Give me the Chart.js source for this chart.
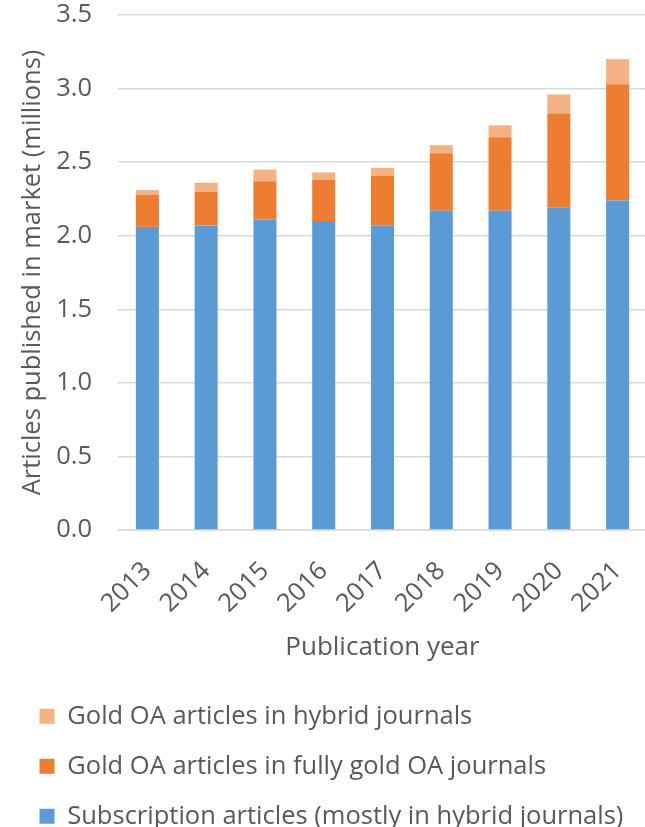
<!DOCTYPE html>
<html>
<head>
<meta charset="utf-8">
<script src="https://cdn.jsdelivr.net/npm/chart.js@4"></script>
<style>
  html, body { margin: 0; padding: 0; background: #fff; overflow: hidden; }
  #wrap { width: 650px; height: 839px; }
</style>
</head>
<body>
<div id="wrap"><canvas id="chart"></canvas></div>
<script>
// Data (millions of articles)
const years = ['2013', '2014', '2015', '2016', '2017', '2018', '2019', '2020', '2021'];
const subscription = [2.06, 2.07, 2.11, 2.10, 2.07, 2.17, 2.17, 2.19, 2.24];
const fullyGold = [0.22, 0.23, 0.26, 0.28, 0.34, 0.39, 0.50, 0.64, 0.79];
const hybridGold = [0.03, 0.06, 0.08, 0.05, 0.05, 0.055, 0.08, 0.13, 0.17];
const yTicks = [0, 0.5, 1.0, 1.5, 2.0, 2.5, 3.0, 3.5];

const FONT = '"Open Sans", sans-serif';
const GREY = '#595959';

const ctx = document.getElementById('chart').getContext('2d');
new Chart(ctx, {
  type: 'bar',
  data: {
    labels: years,
    datasets: [
      { label: 'Subscription articles (mostly in hybrid journals)', data: subscription, backgroundColor: '#5b9bd5' },
      { label: 'Gold OA articles in fully gold OA journals', data: fullyGold, backgroundColor: '#ed7d31' },
      { label: 'Gold OA articles in hybrid journals', data: hybridGold, backgroundColor: '#f4b183' }
    ]
  },
  options: {
    responsive: true,
    maintainAspectRatio: false,
    animation: false,
    layout: { padding: { top: 15, left: 15, right: 3, bottom: 0 } },
    datasets: { bar: { barPercentage: 0.8, categoryPercentage: 0.49, borderWidth: 0 } },
    plugins: {
      tooltip: { enabled: false },
      legend: {
        position: 'bottom',
        align: 'start',
        reverse: true,
        labels: {
          boxWidth: 15, boxHeight: 15, padding: 24.5,
          color: GREY, font: { family: FONT, size: 25.5 }
        }
      }
    },
    scales: {
      x: {
        stacked: true,
        grid: { display: false },
        border: { color: '#d9d9d9', width: 1.5 },
        ticks: { color: GREY, font: { family: FONT, size: 25.5 }, minRotation: 45, maxRotation: 45, padding: 18 },
        title: { display: true, text: 'Publication year', color: GREY, font: { family: FONT, size: 26 }, padding: { top: 4, bottom: 16 } },
        afterFit: s => { s.height = 149; s.paddingLeft = 0; s.paddingRight = 0; }
      },
      y: {
        stacked: true,
        min: 0, max: 3.5,
        afterBuildTicks: s => { s.ticks = yTicks.map(v => ({ value: v })); },
        grid: { color: '#d9d9d9', lineWidth: 1.5, drawTicks: false },
        border: { display: false },
        ticks: { color: GREY, font: { family: FONT, size: 25.5 }, padding: 26, callback: v => v.toFixed(1) },
        title: { display: true, text: 'Articles published in market (millions)', color: GREY, font: { family: FONT, size: 25.5 }, padding: { top: 2, bottom: 0 } },
        afterFit: s => { s.width = 103; s.paddingTop = 0; s.paddingBottom = 0; }
      }
    }
  }
});
</script>
</body>
</html>
